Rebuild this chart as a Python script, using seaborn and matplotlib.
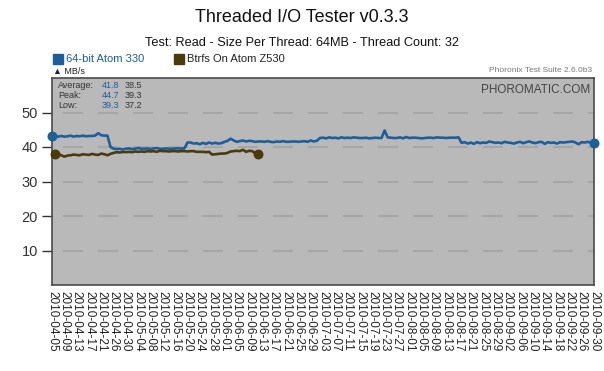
import pandas as pd
import seaborn as sns
import matplotlib.pyplot as plt

# dates: daily from 2010-04-05 to 2010-09-30, two days missing
dates = pd.date_range("2010-04-05", "2010-09-30", freq="D")
dates = dates.drop([pd.Timestamp("2010-04-25"), pd.Timestamp("2010-07-31")])
date_labels = [d.strftime("%Y-%m-%d") for d in dates]

atom330 = [43.3, 43.1, 43.0, 43.2, 43.0, 43.1, 43.3, 43.0, 43.2, 43.1,
           43.3, 43.1, 43.2, 43.2, 43.3, 44.0, 43.4, 43.3, 43.3,
           40.0,
           39.5, 39.4, 39.5, 39.3, 39.5, 39.6, 39.4, 39.5, 39.7, 39.5,
           39.5, 39.6, 39.4, 39.6, 39.7, 39.5, 39.5, 39.6, 39.5, 39.5,
           39.6, 39.6, 39.5, 39.6,
           41.3, 41.3, 41.0, 41.1, 40.8, 41.2, 40.9, 41.3, 41.0, 41.2,
           41.0, 41.1, 41.5, 41.8, 42.4, 41.9, 41.5, 41.7, 41.9, 41.6,
           41.8, 41.7, 41.5, 41.6, 41.6, 41.5, 41.7, 41.5, 41.4, 41.6,
           41.5, 41.7, 41.5, 41.5, 41.6, 41.6, 41.5, 41.6, 41.7, 41.5,
           41.9, 41.6, 41.8,
           42.6, 42.7, 42.5, 42.8, 42.6, 42.7, 42.5, 42.8, 42.6, 42.7,
           42.6, 42.8, 42.7, 42.6, 42.6, 42.7, 42.5, 42.6, 42.7, 42.6,
           42.6, 44.8, 42.8, 42.7, 42.6, 42.6, 42.8, 42.5, 42.9, 42.6,
           42.7, 42.7, 42.6, 42.5, 42.6, 42.7, 42.7, 42.6, 42.8, 42.7,
           42.7, 42.6, 42.7, 42.7, 42.7, 42.8,
           41.2, 41.4, 41.0, 41.3, 40.9, 41.4, 41.1, 41.3, 41.2, 41.6,
           41.4, 41.2, 41.3, 41.1, 41.5, 41.3, 41.2, 41.0, 41.3, 41.5,
           41.1, 41.4, 41.6, 41.3, 41.1, 41.4, 41.5, 40.9, 41.4, 41.2,
           41.3, 41.0, 41.4, 41.3, 41.4, 41.5, 41.6, 41.3, 40.8, 41.4,
           41.3, 41.5, 41.2, 41.2]

btrfs_z530 = [38.1, 38.0, 37.6, 37.2, 37.5, 37.6, 37.8, 37.7, 37.6, 37.9,
              37.8, 37.7, 38.0, 37.8, 37.7, 38.1, 37.9, 37.6, 38.0, 38.3,
              38.5, 38.4, 38.6, 38.5, 38.6, 38.5, 38.7, 38.6, 38.7, 38.6,
              38.8, 38.7, 38.8, 38.6, 38.9, 38.8, 38.8, 38.7, 38.8, 38.8,
              38.7, 38.8, 38.8, 38.7, 38.8, 38.8, 38.6, 38.6, 38.6, 38.5,
              38.6, 37.8, 37.9, 38.0, 38.1, 38.1, 38.3, 38.7, 38.8, 38.9,
              38.8, 39.2, 38.6, 38.9, 38.8, 38.2, 38.0]
btrfs_start = 1

series_names = ["64-bit Atom 330", "Btrfs On Atom Z530"]
stats = {"Average:": ["41.8", "38.5"], "Peak:": ["44.7", "39.3"], "Low:": ["39.3", "37.2"]}
colors = ["#1c5f9a", "#4a3a0c"]
y_ticks = [10, 20, 30, 40, 50]

df = pd.concat([
    pd.DataFrame({"idx": range(len(atom330)), "MB/s": atom330, "system": series_names[0]}),
    pd.DataFrame({"idx": range(btrfs_start, btrfs_start + len(btrfs_z530)),
                  "MB/s": btrfs_z530, "system": series_names[1]}),
])

sns.set_style("white")
plt.rcParams["font.family"] = ["Liberation Sans", "DejaVu Sans"]
plt.rcParams["lines.scale_dashes"] = False

fig = plt.figure(figsize=(6.04, 3.71), dpi=100)
ax = fig.add_axes([52 / 604, 1 - 285 / 371, 542 / 604, 207 / 371])
ax.set_facecolor("#b9b9b9")

for y in y_ticks:
    ax.axhline(y, color="#a6a6a6", lw=1.5, ls=(17.3, (14.4, 10.8)), zorder=1)

sns.lineplot(data=df, x="idx", y="MB/s", hue="system", palette=colors,
             linewidth=1.9, legend=False, ax=ax, zorder=3)

# end markers
for name, c in zip(series_names, colors):
    s = df[df["system"] == name]
    ax.scatter([s["idx"].iloc[0], s["idx"].iloc[-1]], [s["MB/s"].iloc[0], s["MB/s"].iloc[-1]],
               s=38, color=c, zorder=4, clip_on=False)

n = len(atom330)
ax.set_xlim(0, n - 1)
ax.set_ylim(0, 60)
ax.set_xticks(range(n))
ax.set_xticklabels([lab if i % 4 == 0 else "" for i, lab in enumerate(date_labels)],
                   rotation=-90, fontsize=8.5, color="#222")
ax.tick_params(axis="x", direction="in", length=6, width=0.8, color="#777", pad=4)
ax.set_yticks(y_ticks)
ax.set_yticklabels([str(v) for v in y_ticks], fontsize=10.5, color="#333")
ax.tick_params(axis="y", direction="out", length=7, width=1, color="#333", pad=3, left=True)
ax.set_xlabel("")
ax.set_ylabel("")
for sp in ax.spines.values():
    sp.set_color("#4a4a4a")
    sp.set_linewidth(1.2)

# titles
fig.text(0.5, 1 - 18 / 371, "Threaded I/O Tester v0.3.3", ha="center", va="center",
         fontsize=13, color="#111")
fig.text(0.5, 1 - 43 / 371, "Test: Read - Size Per Thread: 64MB - Thread Count: 32",
         ha="center", va="center", fontsize=9.2, color="#111")

# legend
for x0, name, c in [(53, series_names[0], colors[0]), (174, series_names[1], colors[1])]:
    fig.patches.append(plt.Rectangle((x0 / 604, 1 - 64 / 371), 10 / 604, 10 / 371,
                                     transform=fig.transFigure, color=c, figure=fig))
    fig.text((x0 + 13) / 604, 1 - 59 / 371, name, ha="left", va="center", fontsize=8,
             color=c if c == colors[0] else "#222")
fig.text(53 / 604, 1 - 72 / 371, "\u25b2 MB/s", ha="left", va="center", fontsize=6.5, color="#222")
fig.text(592 / 604, 1 - 70 / 371, "Phoronix Test Suite 2.6.0b3", ha="right", va="center",
         fontsize=6, color="#777")

ax.text(0.993, 0.94, "PHOROMATIC.COM", transform=ax.transAxes, ha="right", va="center",
        fontsize=8.5, color="#444")

for k, (label, vals) in enumerate(stats.items()):
    yy = 1 - (86 + 10 * k) / 371
    fig.text(58 / 604, yy, label, ha="left", va="center", fontsize=6.5, color="#333")
    fig.text(119 / 604, yy, vals[0], ha="right", va="center", fontsize=6.5, color=colors[0])
    fig.text(142 / 604, yy, vals[1], ha="right", va="center", fontsize=6.5, color="#333")

fig.savefig("out.png", dpi=100)
